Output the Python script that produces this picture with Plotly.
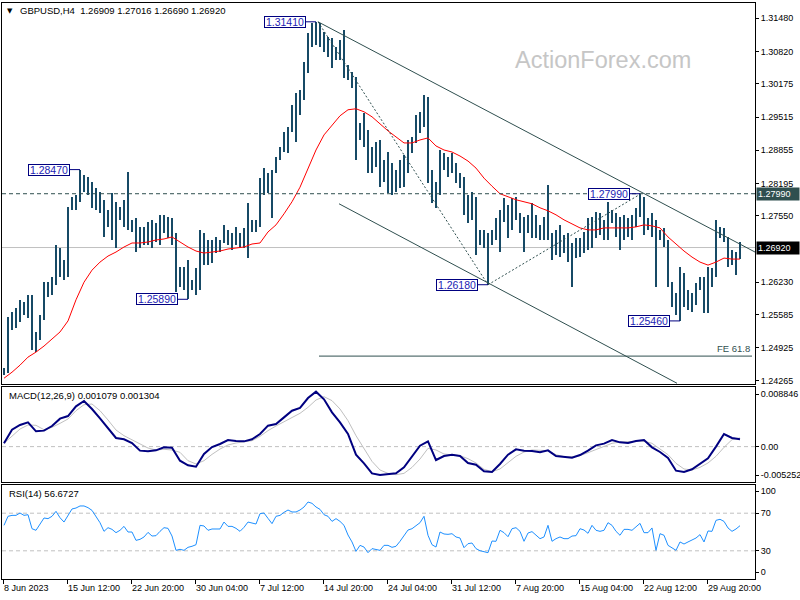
import plotly.graph_objects as go

# ---------------- data ----------------
# price bars: one entry per pair of H4 bars (high / low)
highs = [
    1.2452, 1.2554, 1.2564, 1.2572, 1.2588, 1.2584, 1.2598, 1.2598, 1.2524, 1.2558,
    1.2623, 1.2623, 1.2633, 1.2697, 1.2691, 1.2667, 1.2773, 1.2793, 1.2797, 1.2847,
    1.2836, 1.2832, 1.2822, 1.2810, 1.2803, 1.2787, 1.2767, 1.2801, 1.2783, 1.2773,
    1.2787, 1.2842, 1.2747, 1.2751, 1.2733, 1.2733, 1.2743, 1.2747, 1.2741, 1.2757,
    1.2757, 1.2753, 1.2751, 1.2721, 1.2653, 1.2653, 1.2667, 1.2627, 1.2651, 1.2727,
    1.2721, 1.2707, 1.2707, 1.2713, 1.2707, 1.2737, 1.2727, 1.2721, 1.2733, 1.2721,
    1.2731, 1.2781, 1.2747, 1.2747, 1.2830, 1.2850, 1.2840, 1.2846, 1.2872, 1.2892,
    1.2922, 1.2932, 1.2976, 1.2999, 1.3005, 1.3061, 1.3119, 1.3139, 1.3141, 1.3139,
    1.3121, 1.3111, 1.3109, 1.3091, 1.3105, 1.3125, 1.3055, 1.3041, 1.3031, 1.2940,
    1.2960, 1.2926, 1.2892, 1.2902, 1.2906, 1.2866, 1.2882, 1.2860, 1.2846, 1.2866,
    1.2876, 1.2906, 1.2912, 1.2956, 1.2962, 1.2995, 1.2991, 1.2846, 1.2822, 1.2886,
    1.2880, 1.2872, 1.2880, 1.2860, 1.2840, 1.2832, 1.2797, 1.2803, 1.2793, 1.2727,
    1.2727, 1.2721, 1.2727, 1.2751, 1.2767, 1.2791, 1.2777, 1.2791, 1.2793, 1.2761,
    1.2753, 1.2757, 1.2781, 1.2757, 1.2737, 1.2753, 1.2816, 1.2721, 1.2727, 1.2737,
    1.2717, 1.2721, 1.2701, 1.2711, 1.2711, 1.2723, 1.2751, 1.2753, 1.2763, 1.2761,
    1.2747, 1.2783, 1.2767, 1.2761, 1.2753, 1.2757, 1.2751, 1.2757, 1.2771, 1.2799,
    1.2793, 1.2751, 1.2761, 1.2747, 1.2727, 1.2731, 1.2707, 1.2623, 1.2602, 1.2653,
    1.2641, 1.2608, 1.2602, 1.2621, 1.2633, 1.2633, 1.2653, 1.2651, 1.2747, 1.2733,
    1.2731, 1.2713, 1.2687, 1.2683, 1.2702,
]
lows = [
    1.2438, 1.2442, 1.2528, 1.2532, 1.2544, 1.2558, 1.2552, 1.2488, 1.2484, 1.2508,
    1.2548, 1.2594, 1.2598, 1.2617, 1.2633, 1.2627, 1.2633, 1.2767, 1.2767, 1.2783,
    1.2803, 1.2797, 1.2771, 1.2767, 1.2761, 1.2713, 1.2733, 1.2707, 1.2691, 1.2747,
    1.2733, 1.2727, 1.2723, 1.2683, 1.2691, 1.2697, 1.2697, 1.2691, 1.2703, 1.2697,
    1.2721, 1.2711, 1.2697, 1.2604, 1.2614, 1.2608, 1.2589, 1.2608, 1.2598, 1.2608,
    1.2657, 1.2657, 1.2661, 1.2681, 1.2683, 1.2701, 1.2697, 1.2687, 1.2697, 1.2691,
    1.2691, 1.2671, 1.2723, 1.2723, 1.2733, 1.2797, 1.2801, 1.2751, 1.2840, 1.2866,
    1.2882, 1.2880, 1.2922, 1.2902, 1.2956, 1.2986, 1.3039, 1.3091, 1.3095, 1.3091,
    1.3081, 1.3071, 1.3049, 1.3065, 1.3065, 1.3029, 1.3025, 1.3009, 1.2866, 1.2906,
    1.2892, 1.2840, 1.2840, 1.2852, 1.2812, 1.2822, 1.2801, 1.2797, 1.2803, 1.2810,
    1.2812, 1.2840, 1.2880, 1.2900, 1.2920, 1.2932, 1.2820, 1.2781, 1.2771, 1.2797,
    1.2846, 1.2832, 1.2840, 1.2820, 1.2810, 1.2757, 1.2741, 1.2747, 1.2677, 1.2697,
    1.2691, 1.2618, 1.2697, 1.2707, 1.2683, 1.2743, 1.2711, 1.2727, 1.2747, 1.2721,
    1.2683, 1.2721, 1.2711, 1.2711, 1.2707, 1.2707, 1.2707, 1.2667, 1.2677, 1.2673,
    1.2681, 1.2663, 1.2614, 1.2671, 1.2673, 1.2681, 1.2687, 1.2691, 1.2711, 1.2717,
    1.2707, 1.2707, 1.2741, 1.2713, 1.2687, 1.2707, 1.2713, 1.2707, 1.2733, 1.2753,
    1.2717, 1.2727, 1.2713, 1.2614, 1.2707, 1.2693, 1.2614, 1.2574, 1.2558, 1.2546,
    1.2574, 1.2568, 1.2564, 1.2578, 1.2608, 1.2562, 1.2562, 1.2614, 1.2633, 1.2711,
    1.2703, 1.2653, 1.2657, 1.2637, 1.2669,
]
# red moving average, one value every 4 H4 bars
ma_values = [
    1.2432, 1.2444, 1.2458, 1.2474, 1.2484, 1.2496, 1.2510, 1.2524, 1.2546, 1.2588,
    1.2623, 1.2647, 1.2663, 1.2675, 1.2683, 1.2693, 1.2701, 1.2701, 1.2703, 1.2707,
    1.2709, 1.2713, 1.2703, 1.2693, 1.2685, 1.2681, 1.2683, 1.2685, 1.2689, 1.2691,
    1.2693, 1.2699, 1.2701, 1.2723, 1.2737, 1.2759, 1.2783, 1.2812, 1.2848, 1.2886,
    1.2916, 1.2936, 1.2954, 1.2966, 1.2968, 1.2962, 1.2952, 1.2938, 1.2924, 1.2912,
    1.2900, 1.2900, 1.2906, 1.2910, 1.2894, 1.2886, 1.2882, 1.2874, 1.2864, 1.2850,
    1.2830, 1.2814, 1.2799, 1.2793, 1.2787, 1.2783, 1.2779, 1.2771, 1.2765, 1.2757,
    1.2747, 1.2739, 1.2731, 1.2727, 1.2727, 1.2731, 1.2731, 1.2731, 1.2731, 1.2733,
    1.2737, 1.2735, 1.2731, 1.2713, 1.2699, 1.2685, 1.2673, 1.2663, 1.2657, 1.2663,
    1.2671, 1.2669, 1.2669,
]
# MACD(12,26,9): main and signal, one value every 4 H4 bars
macd_main = [
    0.00049, 0.00251, 0.00321, 0.00360, 0.00227, 0.00237, 0.00306, 0.00415, 0.00454, 0.00598,
    0.00677, 0.00558, 0.00420, 0.00276, 0.00128, 0.00108, 0.00054, -0.00060, -0.00070, -0.00055,
    -0.00011, -0.00016, -0.00209, -0.00278, -0.00298, -0.00110, -0.00006, 0.00039, 0.00098, 0.00083,
    0.00078, 0.00108, 0.00187, 0.00311, 0.00336, 0.00434, 0.00533, 0.00573, 0.00721, 0.00815,
    0.00702, 0.00509, 0.00360, 0.00187, -0.00120, -0.00248, -0.00397, -0.00421, -0.00407, -0.00397,
    -0.00308, -0.00144, 0.00014, 0.00078, -0.00199, -0.00140, -0.00120, -0.00140, -0.00243, -0.00268,
    -0.00367, -0.00377, -0.00258, -0.00120, -0.00041, -0.00060, -0.00065, -0.00085, -0.00055, -0.00140,
    -0.00149, -0.00164, -0.00125, -0.00060, 0.00019, 0.00044, 0.00098, 0.00063, 0.00054, 0.00083,
    0.00098, -0.00011, -0.00080, -0.00169, -0.00357, -0.00377, -0.00337, -0.00258, -0.00174, 0.00000,
    0.00187, 0.00128, 0.00108,
]
macd_signal = [
    0.00049, 0.00162, 0.00261, 0.00321, 0.00316, 0.00251, 0.00286, 0.00345, 0.00410, 0.00533,
    0.00622, 0.00632, 0.00533, 0.00395, 0.00246, 0.00162, 0.00103, 0.00039, -0.00021, -0.00050,
    -0.00040, -0.00050, -0.00085, -0.00209, -0.00258, -0.00209, -0.00115, -0.00036, 0.00024, 0.00054,
    0.00073, 0.00088, 0.00152, 0.00237, 0.00306, 0.00365, 0.00434, 0.00494, 0.00583, 0.00692,
    0.00741, 0.00682, 0.00558, 0.00385, 0.00162, -0.00036, -0.00219, -0.00347, -0.00397, -0.00417,
    -0.00397, -0.00308, -0.00184, -0.00026, -0.00050, -0.00110, -0.00125, -0.00135, -0.00179, -0.00243,
    -0.00337, -0.00372, -0.00332, -0.00233, -0.00144, -0.00080, -0.00050, -0.00055, -0.00060, -0.00120,
    -0.00149, -0.00149, -0.00135, -0.00090, -0.00040, 0.00009, 0.00049, 0.00068, 0.00078, 0.00078,
    0.00078, 0.00049, -0.00036, -0.00120, -0.00248, -0.00332, -0.00347, -0.00308, -0.00243, -0.00144,
    -0.00011, 0.00103, 0.00130,
]
# RSI(14), one value per pair of H4 bars
rsi_values = [
    57.1, 66.7, 67.7, 67.7, 70.2, 67.7, 68.4, 53.5, 51.8, 57.8,
    64.9, 64.2, 66.7, 72.0, 65.2, 60.6, 67.7, 74.5, 75.5, 77.7,
    77.7, 75.9, 73.0, 66.0, 59.9, 50.7, 54.6, 52.8, 49.3, 51.8,
    56.0, 50.0, 50.0, 41.1, 42.2, 44.7, 49.6, 45.7, 46.1, 50.7,
    54.6, 53.9, 45.7, 30.5, 31.6, 30.5, 33.7, 34.8, 36.5, 57.1,
    56.4, 51.8, 53.2, 53.2, 53.2, 60.6, 56.0, 56.0, 53.9, 50.7,
    55.0, 60.6, 59.2, 58.5, 69.5, 70.2, 64.5, 58.9, 66.7, 67.7,
    70.9, 73.4, 71.3, 71.3, 73.4, 76.6, 81.9, 80.5, 76.6, 74.1,
    68.4, 66.7, 61.3, 64.2, 61.3, 57.1, 46.8, 39.4, 29.4, 35.8,
    34.0, 28.0, 32.3, 31.6, 30.5, 35.8, 35.8, 33.7, 34.8, 40.1,
    46.5, 52.1, 53.5, 56.7, 59.9, 66.7, 46.5, 36.5, 34.0, 50.0,
    47.9, 47.5, 48.2, 44.7, 43.6, 33.3, 37.6, 38.3, 32.3, 30.1,
    28.7, 28.0, 40.4, 40.1, 51.8, 49.3, 45.0, 53.5, 54.6, 50.7,
    40.1, 48.9, 50.4, 46.5, 42.9, 44.7, 57.1, 40.1, 42.9, 44.7,
    42.9, 42.9, 45.7, 46.1, 53.5, 52.1, 48.6, 57.1, 51.8, 50.7,
    51.8, 59.9, 57.1, 50.7, 46.5, 52.8, 52.8, 51.8, 55.3, 59.2,
    49.3, 49.3, 54.3, 30.5, 48.2, 46.5, 35.8, 33.0, 30.5, 39.4,
    37.2, 39.4, 41.1, 43.6, 47.2, 39.4, 51.1, 50.7, 62.4, 63.5,
    61.3, 54.3, 50.7, 53.2, 56.7,
]
date_labels = ["8 Jun 2023", "15 Jun 12:00", "22 Jun 20:00", "30 Jun 04:00",
               "7 Jul 12:00", "14 Jul 20:00", "24 Jul 04:00", "31 Jul 12:00",
               "7 Aug 20:00", "15 Aug 04:00", "22 Aug 12:00", "29 Aug 20:00"]
price_ticks = [1.31480, 1.30820, 1.30175, 1.29515, 1.28855, 1.28195,
               1.27550, 1.26230, 1.25585, 1.24925, 1.24265]
swing_prices = [1.28470, 1.25890, 1.31410, 1.26180, 1.27990, 1.25460]
swing_bins = [19, 46, 78, 121, 159, 169]
bid_price = 1.26920
resistance_price = 1.27990
fe_price = 1.2476
# drawn analysis lines: (H4 bar index, price)
channel_upper = [(157.5, 1.3141), (376.0, 1.2683)]
channel_lower = [(168.0, 1.2779), (337.0, 1.2422)]
swing_path = [(157.5, 1.3141), (242.5, 1.2618), (319.0, 1.2799)]
fe_start = 158.0
title_text = "GBPUSD,H4  1.26909 1.27016 1.26690 1.26920"
macd_title = "MACD(12,26,9) 0.001079 0.001304"
rsi_title = "RSI(14) 56.6727"

# ---------------- figure ----------------
FONT = "Liberation Sans, Arial, sans-serif"
AXFS = 9
BAR_COLOR = "#174a66"
DSG = "#2f4f4f"

bar_x = [2 * j + 0.5 for j in range(len(highs))]
ma_x = [4 * m + 0.5 for m in range(len(ma_values))]
macd_x = [4 * m + 0.5 for m in range(len(macd_main))]
rsi_x = [2 * j + 0.5 for j in range(len(rsi_values))]

fig = go.Figure()
fig.add_trace(go.Bar(x=bar_x, y=[h - l for h, l in zip(highs, lows)], base=lows,
                     width=0.75, marker=dict(color=BAR_COLOR, line=dict(width=0)),
                     xaxis="x", yaxis="y", hoverinfo="skip"))
fig.add_trace(go.Scatter(x=ma_x, y=ma_values, mode="lines",
                         line=dict(color="#ff0000", width=1), xaxis="x", yaxis="y"))
fig.add_trace(go.Scatter(x=macd_x, y=macd_signal, mode="lines",
                         line=dict(color="#c0c0c0", width=1), xaxis="x2", yaxis="y2"))
fig.add_trace(go.Scatter(x=macd_x, y=macd_main, mode="lines",
                         line=dict(color="#000080", width=2), xaxis="x2", yaxis="y2"))
fig.add_trace(go.Scatter(x=rsi_x, y=rsi_values, mode="lines",
                         line=dict(color="#1e90ff", width=1), xaxis="x3", yaxis="y3"))

W, H = 800, 600
ML, MR, MT, MB = 2, 45, 3, 21
PW, PH = W - ML - MR, H - MT - MB


def px_x(p):
    return (p - ML) / PW


def px_y(p):
    return (H - MB - p) / PH


x_range = [-0.5, 376.0]
common_x = dict(range=x_range, showgrid=False, zeroline=False, showline=True,
                mirror=True, linecolor="black", linewidth=1, fixedrange=True)
common_y = dict(showgrid=False, zeroline=False, showline=True, mirror=True,
                linecolor="black", linewidth=1, side="right", ticks="outside",
                ticklen=3, tickcolor="black", automargin=False, fixedrange=True,
                tickfont=dict(family=FONT, size=AXFS, color="black"))

fig.update_layout(
    width=W, height=H, paper_bgcolor="white", plot_bgcolor="white",
    margin=dict(l=ML, r=MR, t=MT, b=MB, pad=0), showlegend=False,
    font=dict(family=FONT, size=AXFS, color="black"), bargap=0,
    xaxis=dict(**common_x, anchor="y", showticklabels=False, ticks=""),
    xaxis2=dict(**common_x, anchor="y2", showticklabels=False, ticks="", matches="x"),
    xaxis3=dict(**common_x, anchor="y3", matches="x", ticks="outside", ticklen=4,
                tickcolor="black", tickvals=[32 * k for k in range(len(date_labels))],
                ticktext=date_labels, ticklabelposition="outside right", tickangle=0,
                tickfont=dict(family=FONT, size=AXFS, color="black"), automargin=False),
    yaxis=dict(**common_y, domain=[px_y(384), 1.0], range=[1.24205, 1.31784],
               tickvals=price_ticks, tickformat=".5f"),
    yaxis2=dict(**common_y, domain=[px_y(482), px_y(387)], range=[-0.005252, 0.008846],
                tickvals=[0.007807, 0.0, -0.004213],
                ticktext=["0.008846", "0.00", "-0.005252"]),
    yaxis3=dict(**common_y, domain=[0.0, px_y(485)], range=[0, 100],
                tickvals=[93.6, 70, 30, 7.4], ticktext=["100", "70", "30", "0"]),
)

shapes = []
shapes.append(dict(type="line", xref="paper", yref="y", x0=0, x1=1, y0=bid_price, y1=bid_price,
                   line=dict(color="#c0c0c0", width=1), layer="below"))
shapes.append(dict(type="line", xref="paper", yref="y", x0=0, x1=1,
                   y0=resistance_price, y1=resistance_price,
                   line=dict(color=DSG, width=1, dash="4px,3px")))
for seg in (channel_upper, channel_lower):
    shapes.append(dict(type="line", xref="x", yref="y", x0=seg[0][0], y0=seg[0][1],
                       x1=seg[1][0], y1=seg[1][1], line=dict(color=DSG, width=1)))
for a, b in zip(swing_path[:-1], swing_path[1:]):
    shapes.append(dict(type="line", xref="x", yref="y", x0=a[0], y0=a[1], x1=b[0], y1=b[1],
                       line=dict(color=DSG, width=1, dash="2px,2px")))
shapes.append(dict(type="line", xref="x", yref="y", x0=fe_start, x1=374.5, y0=fe_price,
                   y1=fe_price, line=dict(color=DSG, width=1)))
shapes.append(dict(type="line", xref="paper", yref="y2", x0=0, x1=1, y0=0, y1=0,
                   line=dict(color="#c0c0c0", width=1, dash="4px,3px"), layer="below"))
for lvl in (70, 30):
    shapes.append(dict(type="line", xref="paper", yref="y3", x0=0, x1=1, y0=lvl, y1=lvl,
                       line=dict(color="#c0c0c0", width=1, dash="4px,3px"), layer="below"))
fig.update_layout(shapes=shapes)

ann = []
ann.append(dict(xref="paper", yref="paper", x=px_x(10), y=px_y(10.5), text="▼",
                showarrow=False, xanchor="center", yanchor="middle",
                font=dict(family="DejaVu Sans", size=7, color="black")))
ann.append(dict(xref="paper", yref="paper", x=px_x(18), y=px_y(10.5), text=title_text,
                showarrow=False, xanchor="left", yanchor="middle",
                font=dict(family=FONT, size=9.5, color="black")))
ann.append(dict(xref="paper", yref="paper", x=px_x(7), y=px_y(395.5), text=macd_title,
                showarrow=False, xanchor="left", yanchor="middle",
                font=dict(family=FONT, size=9.5, color="black")))
ann.append(dict(xref="paper", yref="paper", x=px_x(7), y=px_y(493.7), text=rsi_title,
                showarrow=False, xanchor="left", yanchor="middle",
                font=dict(family=FONT, size=9.5, color="black")))
ann.append(dict(xref="paper", yref="paper", x=px_x(602.5), y=px_y(59.5), text="ActionForex.com",
                showarrow=False, xanchor="center", yanchor="middle",
                font=dict(family=FONT, size=23.5, color="#c6c6c6")))
ann.append(dict(xref="paper", yref="y", x=px_x(752), y=fe_price, text="FE 61.8",
                showarrow=False, xanchor="right", yanchor="bottom",
                font=dict(family=FONT, size=9.5, color=DSG)))
for price, j in zip(swing_prices, swing_bins):
    ann.append(dict(xref="x", yref="y", x=2 * j + 0.5, y=price, text=f"{price:.5f}",
                    showarrow=True, arrowhead=0, arrowwidth=1, arrowcolor="#000080",
                    ax=-31, ay=0, standoff=0, bgcolor="white", bordercolor="#000080",
                    borderwidth=1, borderpad=0, width=40, height=10,
                    font=dict(family=FONT, size=10.5, color="#1c1cb4")))
for price, bg in ((resistance_price, DSG), (bid_price, "black")):
    ann.append(dict(xref="paper", yref="y", x=1.0, xshift=1, y=price, text=f"{price:.5f}",
                    showarrow=False, xanchor="left", yanchor="middle", align="left",
                    bgcolor=bg, borderpad=1, width=40, height=10,
                    font=dict(family=FONT, size=AXFS, color="white")))
fig.update_layout(annotations=ann)

fig.write_html("out.html", config={"displayModeBar": False, "staticPlot": True},
               post_script="document.body.style.margin='0';document.body.style.overflow='hidden';")
